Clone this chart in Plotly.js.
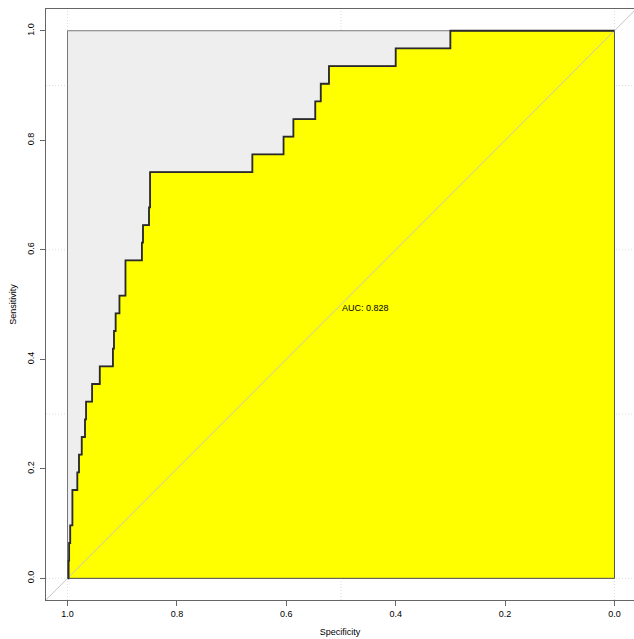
<!DOCTYPE html>
<html>
<head>
<meta charset="utf-8">
<script src="https://cdn.plot.ly/plotly-3.0.1.min.js"></script>
<style>html,body{margin:0;padding:0;background:#fff;}#chart{width:634px;height:639px;}</style>
</head>
<body>
<div id="chart"></div>
<script>
// ROC step corners (specificity, sensitivity), from (1,0) to (0,1)
const specificity = [1.000, 0.998, 0.997, 0.995, 0.991, 0.982, 0.979, 0.974, 0.968, 0.966,
  0.955, 0.941, 0.917, 0.915, 0.912, 0.905, 0.894, 0.864, 0.862, 0.851,
  0.849, 0.662, 0.605, 0.587, 0.547, 0.537, 0.522, 0.400, 0.300, 0.000];
const sensitivity = [0, 1/31, 2/31, 3/31, 5/31, 6/31, 7/31, 8/31, 9/31, 10/31,
  11/31, 12/31, 13/31, 14/31, 15/31, 16/31, 18/31, 19/31, 20/31, 21/31,
  23/31, 24/31, 25/31, 26/31, 27/31, 28/31, 29/31, 30/31, 1, 1];
// perfect-classifier (max AUC) polygon
const maxSpec = [1, 1, 0, 0, 1];
const maxSens = [0, 1, 1, 0, 0];
const aucText = "AUC: 0.828";
const aucPos = [0.5, 0.5];
const tickVals = [0, 0.2, 0.4, 0.6, 0.8, 1.0];
const gridSpec = [1, 0.5, 0];
const gridSens = [0, 0.3, 0.6, 0.9];
const xRange = [1.0393, -0.0357];
const yRange = [-0.0396, 1.0397];

// build the area-under-curve polygon (step shape) from the ROC corners
const polyX = [specificity[0]], polyY = [sensitivity[0]];
for (let i = 1; i < specificity.length; i++) {
  polyX.push(specificity[i]); polyY.push(sensitivity[i - 1]);
  polyX.push(specificity[i]); polyY.push(sensitivity[i]);
}
polyX.push(0); polyY.push(0);
polyX.push(specificity[0]); polyY.push(sensitivity[0]);

const FONT = "Liberation Sans, Arial, Helvetica, sans-serif";
const frameCol = "#666666";

const traces = [
  {x: maxSpec, y: maxSens, mode: "lines", fill: "toself", fillcolor: "#EEEEEE",
   line: {color: "#777777", width: 1}, hoverinfo: "skip", showlegend: false},
  {x: polyX, y: polyY, mode: "lines", fill: "toself", fillcolor: "#FFFF00",
   line: {color: "#555555", width: 1}, hoverinfo: "skip", showlegend: false},
  {x: [xRange[0] + 0.2, xRange[1] - 0.2], y: [1 - (xRange[0] + 0.2), 1 - (xRange[1] - 0.2)],
   mode: "lines", line: {color: "#C4C4C4", width: 1}, hoverinfo: "skip", showlegend: false},
  {x: specificity, y: sensitivity, mode: "lines", line: {color: "#2B2B2B", width: 1.8, shape: "hv"},
   hoverinfo: "skip", showlegend: false}
];

const shapes = [];
gridSpec.forEach(v => shapes.push({type: "line", layer: "below", xref: "x", yref: "paper",
  x0: v, x1: v, y0: 0, y1: 1, line: {color: "#DDDDDD", width: 1, dash: "1px,2px"}}));
gridSens.forEach(v => shapes.push({type: "line", layer: "below", xref: "paper", yref: "y",
  x0: 0, x1: 1, y0: v, y1: v, line: {color: "#DDDDDD", width: 1, dash: "1px,2px"}}));

const layout = {
  width: 634, height: 639,
  margin: {l: 46, r: 0, t: 9, b: 39, pad: 0},
  paper_bgcolor: "#FFFFFF", plot_bgcolor: "#FFFFFF",
  font: {family: FONT, size: 9, color: "#000000"},
  showlegend: false,
  xaxis: {
    range: xRange, autorange: false, showgrid: false, zeroline: false,
    tickmode: "array", tickvals: tickVals, tickformat: ".1f",
    ticks: "outside", ticklen: 5, tickwidth: 1, tickcolor: frameCol,
    showline: true, mirror: true, linecolor: frameCol, linewidth: 1,
    tickfont: {family: FONT, size: 9, color: "#000"},
    title: {text: "Specificity", font: {family: FONT, size: 9, color: "#000"}, standoff: 10}
  },
  yaxis: {
    range: yRange, autorange: false, showgrid: false, zeroline: false,
    tickmode: "array", tickvals: tickVals, tickformat: ".1f", tickangle: -90,
    ticks: "outside", ticklen: 5, tickwidth: 1, tickcolor: frameCol,
    showline: true, mirror: false, linecolor: frameCol, linewidth: 1,
    ticklabelstandoff: 2,
    tickfont: {family: FONT, size: 9, color: "#000"},
    title: {text: "Sensitivity", font: {family: FONT, size: 9, color: "#000"}, standoff: 8}
  },
  shapes: shapes,
  annotations: [{x: aucPos[0], y: aucPos[1], xref: "x", yref: "y", text: aucText,
    showarrow: false, xanchor: "left", yanchor: "top", yshift: 4, xshift: -1,
    font: {family: FONT, size: 9, color: "#000"}}]
};

Plotly.newPlot("chart", traces, layout, {displayModeBar: false, staticPlot: true});
</script>
</body>
</html>
